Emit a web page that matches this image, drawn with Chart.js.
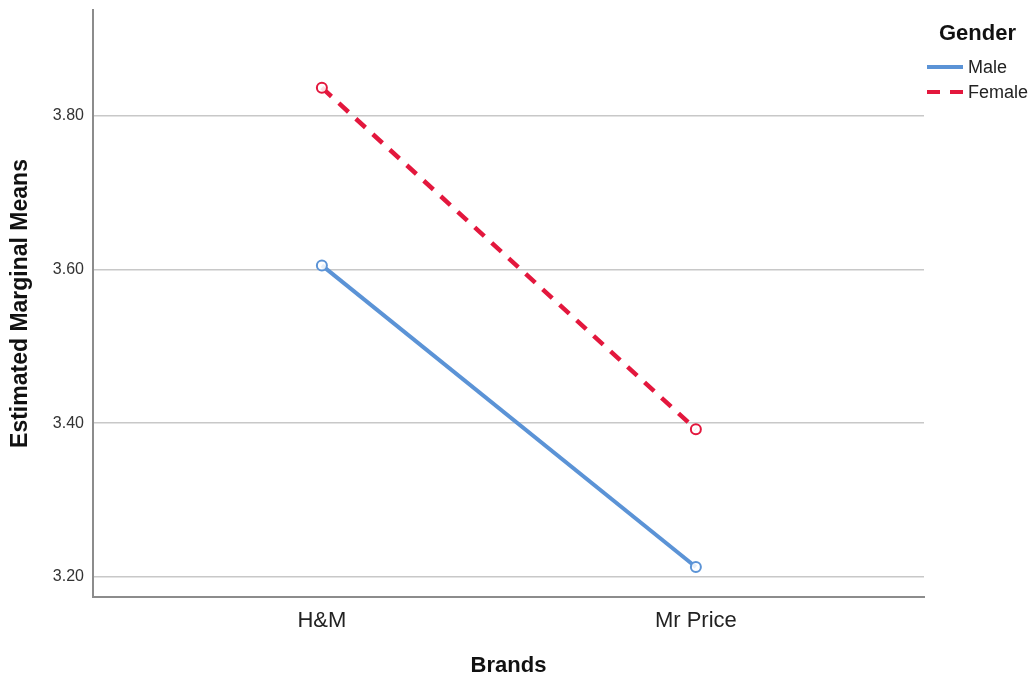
<!DOCTYPE html>
<html>
<head>
<meta charset="utf-8">
<script src="https://cdn.jsdelivr.net/npm/chart.js@4/dist/chart.umd.min.js"></script>
<style>
  html, body { margin: 0; padding: 0; background: #fff; }
  #wrap { width: 1035px; height: 680px; position: relative; }
</style>
</head>
<body>
<div id="wrap"><canvas id="c" width="1035" height="680"></canvas></div>
<script>
const brands = ["H&M", "Mr Price"];
const maleMeans = [3.605, 3.213];
const femaleMeans = [3.836, 3.392];
const yTicks = [3.20, 3.40, 3.60, 3.80];
const seriesNames = ["Male", "Female"];
const legendTitle = "Gender";

const FONT = "'Liberation Sans', Arial, sans-serif";
const BLUE = "#5b93d6";
const RED = "#e3173d";

const legendPlugin = {
  id: 'customLegend',
  afterDraw(chart) {
    const ctx = chart.ctx;
    ctx.save();
    ctx.fillStyle = '#111';
    ctx.font = "bold 22px " + FONT;
    ctx.textBaseline = 'middle';
    ctx.textAlign = 'left';
    ctx.fillText(legendTitle, 939, 34);
    chart.data.datasets.forEach((ds, i) => {
      const y = 67 + i * 25;
      ctx.beginPath();
      ctx.strokeStyle = ds.borderColor;
      ctx.lineWidth = 4;
      ctx.setLineDash(ds.borderDash || []);
      ctx.moveTo(927, y);
      ctx.lineTo(963, y);
      ctx.stroke();
      ctx.setLineDash([]);
      ctx.fillStyle = '#222';
      ctx.font = "18px " + FONT;
      ctx.fillText(ds.label, 968, y + 1);
    });
    ctx.restore();
  }
};

new Chart(document.getElementById('c'), {
  type: 'line',
  data: {
    datasets: [
      {
        label: seriesNames[0],
        data: brands.map((b, i) => ({x: i, y: maleMeans[i]})),
        borderColor: BLUE,
        borderWidth: 4,
        pointRadius: 5,
        pointBorderWidth: 2,
        pointBackgroundColor: 'rgba(255,255,255,0.85)',
        pointBorderColor: BLUE,
        tension: 0
      },
      {
        label: seriesNames[1],
        data: brands.map((b, i) => ({x: i, y: femaleMeans[i]})),
        borderColor: RED,
        borderWidth: 4.5,
        borderDash: [13, 10],
        pointRadius: 5,
        pointBorderWidth: 2,
        pointBackgroundColor: 'rgba(255,255,255,0.85)',
        pointBorderColor: RED,
        tension: 0
      }
    ]
  },
  options: {
    responsive: false,
    animation: false,
    layout: { autoPadding: false, padding: { top: 0, right: 111, left: 0, bottom: 0 } },
    plugins: { legend: { display: false }, tooltip: { enabled: false } },
    scales: {
      x: {
        type: 'linear',
        min: -0.612,
        max: 1.61,
        afterBuildTicks(scale) { scale.ticks = brands.map((b, i) => ({value: i})); },
        afterFit(scale) { scale.height = 83; scale.paddingLeft = 0; scale.paddingRight = 0; },
        grid: { display: false, drawTicks: false },
        border: { display: true, color: '#8c8c8c', width: 2 },
        ticks: {
          callback: (v) => brands[v],
          font: { family: FONT, size: 22 },
          color: '#222',
          padding: 11,
          maxRotation: 0,
          autoSkip: false
        },
        title: {
          display: true,
          text: 'Brands',
          font: { family: FONT, size: 22, weight: 'bold' },
          color: '#111',
          padding: { top: 0, bottom: 1 }
        }
      },
      y: {
        type: 'linear',
        min: 3.174,
        max: 3.937,
        afterBuildTicks(scale) { scale.ticks = yTicks.map(v => ({value: v})); },
        afterFit(scale) { scale.width = 93; scale.paddingTop = 10; scale.paddingBottom = 0; },
        grid: { color: '#c8c8c8', lineWidth: 1.5, drawTicks: false },
        border: { display: true, color: '#8c8c8c', width: 2 },
        ticks: {
          callback: (v) => Number(v).toFixed(2),
          font: { family: FONT, size: 16 },
          color: '#333',
          padding: 9
        },
        title: {
          display: true,
          text: 'Estimated Marginal Means',
          font: { family: FONT, size: 23, weight: 'bold' },
          color: '#111',
          padding: { top: 7, bottom: 0 }
        }
      }
    }
  },
  plugins: [legendPlugin]
});
</script>
</body>
</html>
